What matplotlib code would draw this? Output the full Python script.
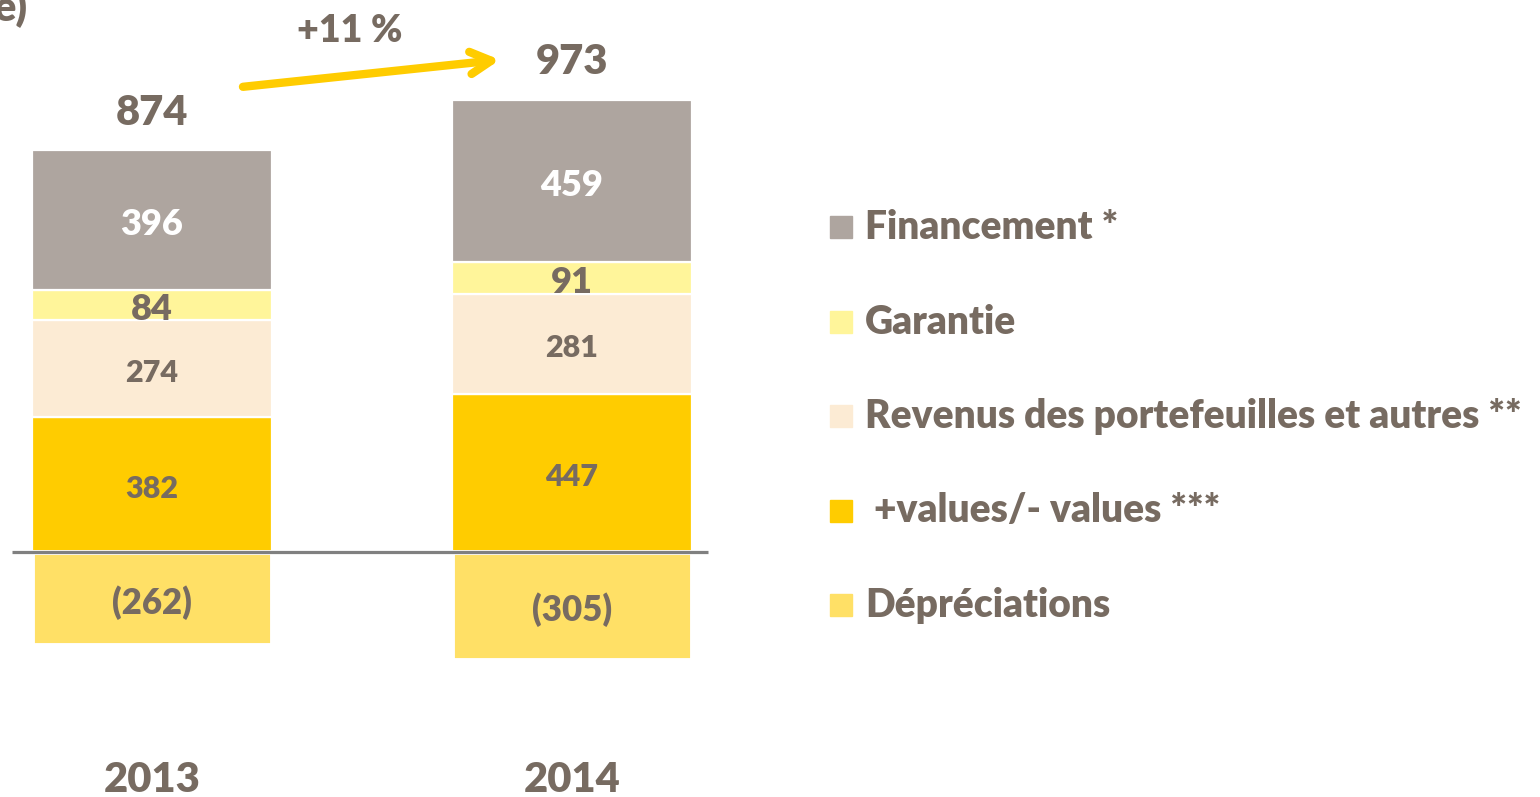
import matplotlib
matplotlib.use("Agg")
import matplotlib.pyplot as plt
from matplotlib.patches import Rectangle
import numpy as np

plt.rcParams['font.family'] = ['Lato', 'DejaVu Sans']
WEIGHT = 'heavy'

years = ['2013', '2014']
financement = [396, 459]
garantie = [84, 91]
revenus = [274, 281]
plus_values = [382, 447]
depreciations = [-262, -305]
totals = [874, 973]
growth = '+11 %'

series_names = ['Financement *', 'Garantie', 'Revenus des portefeuilles et autres **',
                ' +values/- values ***', 'Dépréciations']
colors = ['#AEA59F', '#FFF59A', '#FCEBD4', '#FFCC00', '#FFE066']
text_color = '#776B61'

W, H = 1540, 797
fig = plt.figure(figsize=(W / 100, H / 100), dpi=100)

# main chart axes: left 720 px of the figure, pixel-matched scale
ax = fig.add_axes([0, 0, 720 / W, 1])
px_unit = 0.3538
zero_px = 552
ax.set_xlim(-152 / 420, (720 - 152) / 420)
ax.set_ylim(-(H - zero_px) / px_unit, zero_px / px_unit)
ax.axis('off')

x = np.arange(len(years))
width = 0.57

# stacked positives, bottom up
stack = [plus_values, revenus, garantie, financement]
stack_colors = [colors[3], colors[2], colors[1], colors[0]]
bottom = np.zeros(len(years))
for vals, c in zip(stack, stack_colors):
    vals = np.array(vals)
    ax.bar(x, vals, width, bottom=bottom, color=c, edgecolor='white', linewidth=1.6)
    for i in range(len(years)):
        tc = 'white' if c == colors[0] else text_color
        fs = 26 if c in (colors[0], colors[1]) else 22
        ax.annotate(str(vals[i]), (x[i], bottom[i] + vals[i] / 2), xytext=(0, -3),
                    textcoords='offset points', ha='center', va='center',
                    color=tc, fontsize=fs, fontweight=WEIGHT)
    bottom = bottom + vals

dep = np.array(depreciations)
ax.bar(x, dep, width, color=colors[4], edgecolor='white', linewidth=3.5)
for i in range(len(years)):
    ax.annotate(f'({-dep[i]})', (x[i], dep[i] / 2), xytext=(0, -3),
                textcoords='offset points', ha='center', va='center',
                color=text_color, fontsize=25, fontweight=WEIGHT)

ax.plot([-0.333, 1.324], [0, 0], color='#808080', lw=2.3, solid_capstyle='butt')

# totals above stacks
for i in range(len(years)):
    ax.annotate(str(totals[i]), (x[i], bottom[i]), xytext=(0, 27), textcoords='offset points',
                ha='center', va='center', color=text_color, fontsize=30, fontweight=WEIGHT)
    ax.text(x[i], -645, years[i], ha='center', va='center', color=text_color,
            fontsize=30, fontweight=WEIGHT)

# growth arrow
ax.annotate('', xy=(0.835, 1392), xytext=(0.21, 1314),
            arrowprops=dict(arrowstyle='->,head_length=1.5,head_width=0.8',
                            color='#FFCC00', lw=6, capstyle='round', joinstyle='round'))
ax.text(0.471, 1472, growth, ha='center', va='center', color=text_color,
        fontsize=27, fontweight=WEIGHT)

# legend drawn in pixel space
lg = fig.add_axes([0, 0, 1, 1])
lg.set_xlim(0, W)
lg.set_ylim(H, 0)
lg.axis('off')
lg.patch.set_alpha(0)
rows = [227, 322, 416, 511, 605]
for name, c, yy in zip(series_names, colors, rows):
    lg.add_patch(Rectangle((830, yy - 11), 22, 22, color=c))
    lg.text(865, yy, name, ha='left', va='center', color=text_color,
            fontsize=28, fontweight=WEIGHT)

fig.text(-0.004, 0.99, 'e)', ha='left', va='center', color=text_color,
         fontsize=30, fontweight=WEIGHT)

fig.savefig('out.png', dpi=100)
